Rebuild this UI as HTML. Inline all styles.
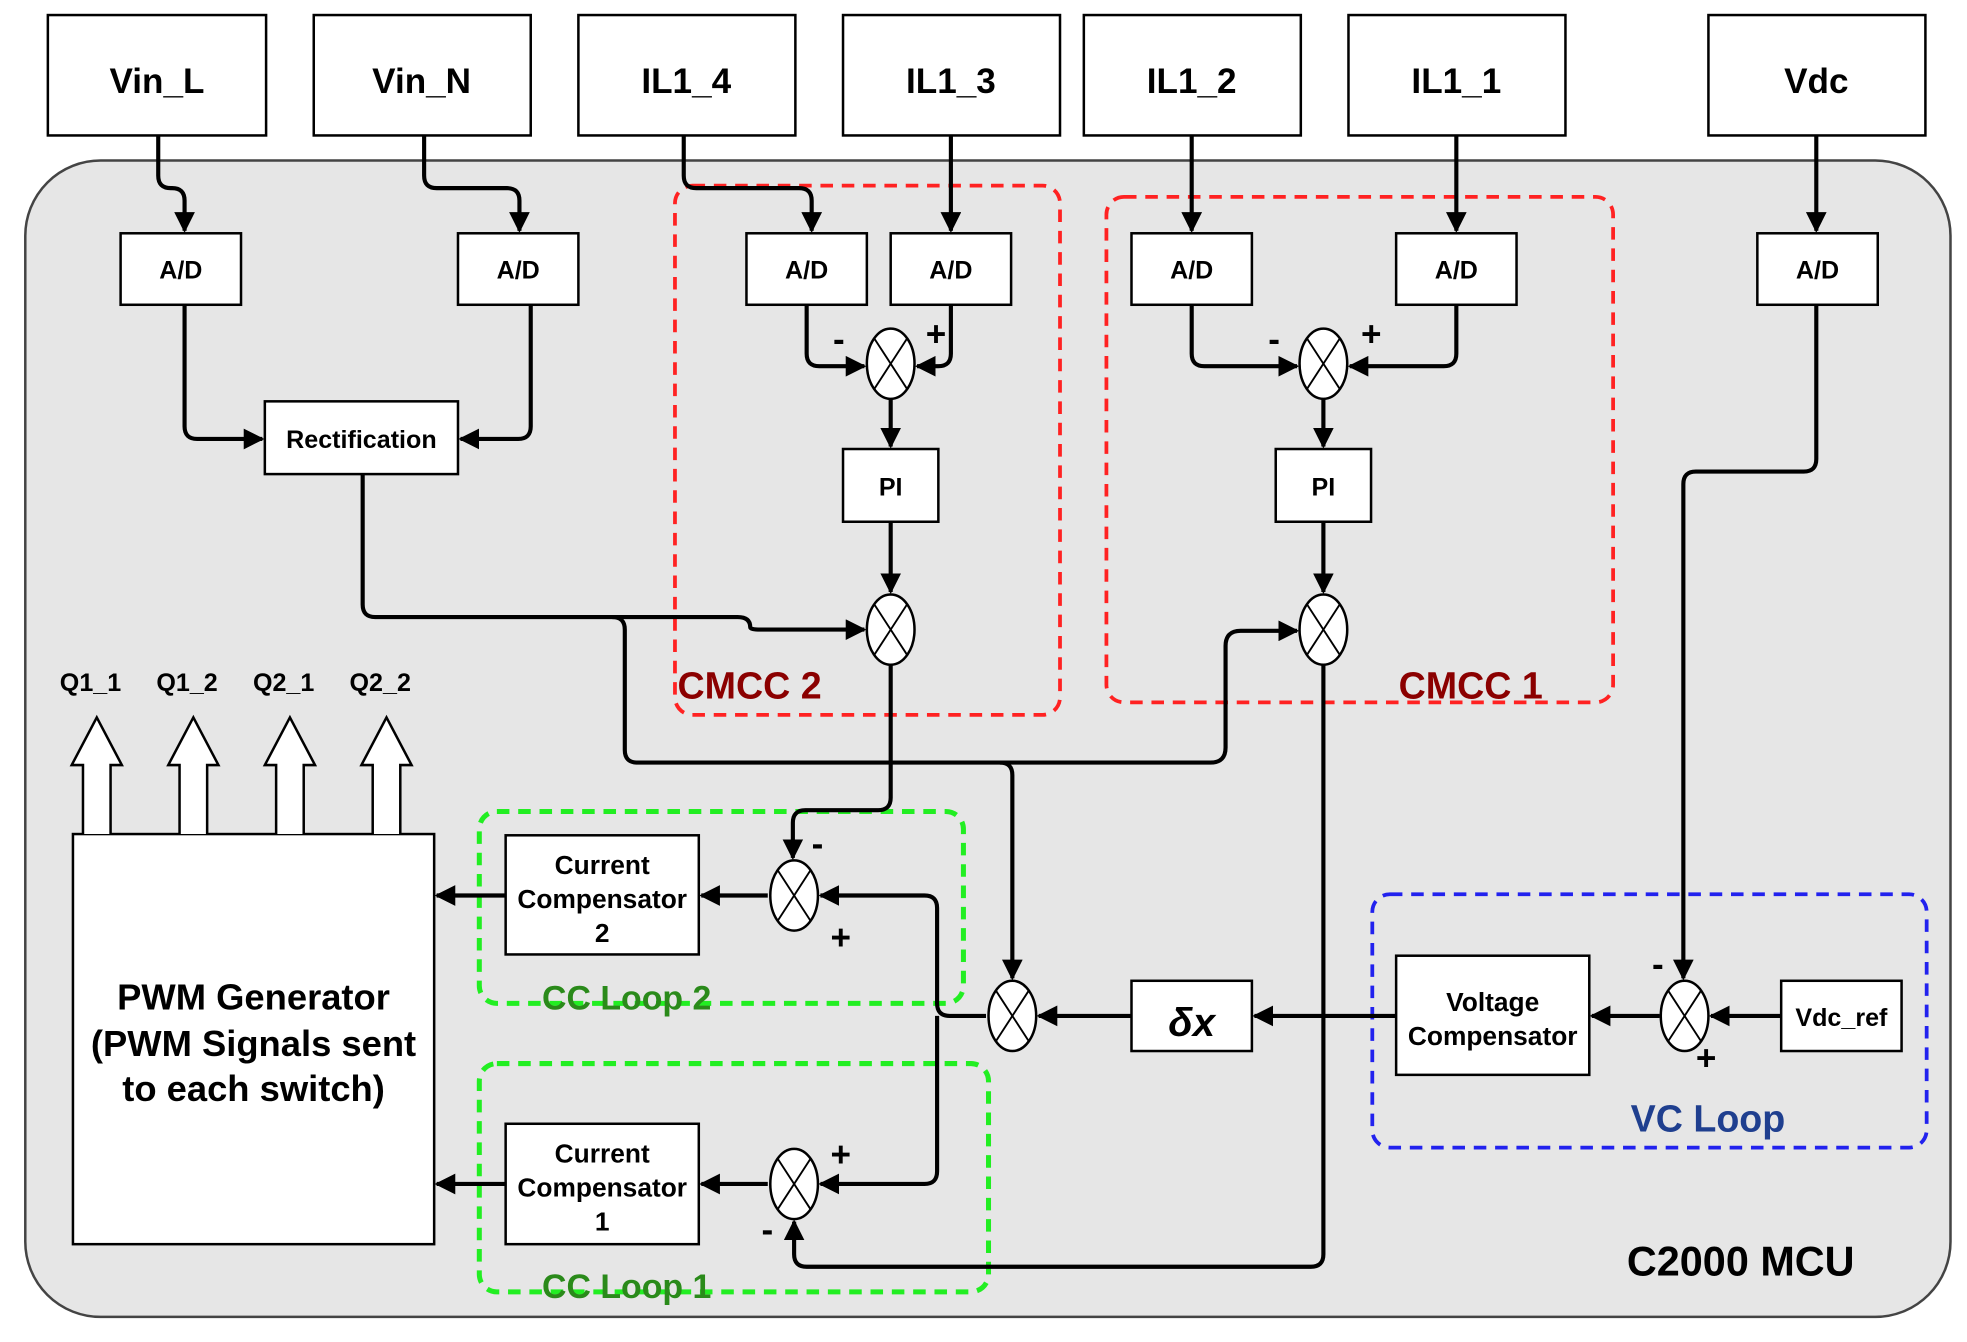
<!DOCTYPE html>
<html><head><meta charset="utf-8"><style>
html,body{margin:0;padding:0;background:#fff;}
svg{display:block;}
text{font-family:"Liberation Sans",Arial,sans-serif;font-weight:bold;}
</style></head><body>
<svg width="1967" height="1342" viewBox="0 0 1568 1070" xmlns="http://www.w3.org/2000/svg">
<defs>
<marker id="a" viewBox="0 0 10 10" refX="9" refY="5" markerWidth="5" markerHeight="5" orient="auto-start-reverse">
<path d="M0,0 L10,5 L0,10 z" fill="#000"/></marker>
<g id="sum"><ellipse cx="0" cy="0" rx="19" ry="28" fill="#fff" stroke="#000" stroke-width="2"/>
<line x1="-13" y1="-20" x2="13" y2="20" stroke="#000" stroke-width="1.5"/><line x1="13" y1="-20" x2="-13" y2="20" stroke="#000" stroke-width="1.5"/></g>
<g id="hol"><path d="M-11,93 V38 H-20 L0,0 L20,38 H11 V93" fill="#fff" stroke="#000" stroke-width="2"/></g>
</defs>
<rect x="20" y="128" width="1535" height="922" rx="60" fill="#e6e6e6" stroke="#444" stroke-width="2"/>
<g fill="#fff" stroke="#000" stroke-width="2">
<rect x="38" y="12" width="174" height="96"/><rect x="250" y="12" width="173" height="96"/>
<rect x="461" y="12" width="173" height="96"/><rect x="672" y="12" width="173" height="96"/>
<rect x="864" y="12" width="173" height="96"/><rect x="1075" y="12" width="173" height="96"/>
<rect x="1362" y="12" width="173" height="96"/>
<rect x="96" y="186" width="96" height="57"/><rect x="365" y="186" width="96" height="57"/>
<rect x="595" y="186" width="96" height="57"/><rect x="710" y="186" width="96" height="57"/>
<rect x="902" y="186" width="96" height="57"/><rect x="1113" y="186" width="96" height="57"/>
<rect x="1401" y="186" width="96" height="57"/>
<rect x="211" y="320" width="154" height="58"/>
<rect x="672" y="358" width="76" height="58"/><rect x="1017" y="358" width="76" height="58"/>
<rect x="58" y="665" width="288" height="327"/>
<rect x="403" y="666" width="154" height="95"/><rect x="403" y="896" width="154" height="96"/>
<rect x="902" y="782" width="96" height="56"/><rect x="1113" y="762" width="154" height="95"/>
<rect x="1420" y="782" width="96" height="56"/>
</g>
<g fill="none" stroke-dasharray="10,7" stroke-width="3">
<rect x="538" y="148" width="307" height="422" rx="14" stroke="#f22"/>
<rect x="882" y="157" width="404" height="403" rx="14" stroke="#f22"/>
<rect x="382" y="647" width="386" height="153" rx="14" stroke="#2e2" stroke-width="4"/>
<rect x="382" y="848" width="406" height="182" rx="14" stroke="#2e2" stroke-width="4"/>
<rect x="1094" y="713" width="442" height="202" rx="14" stroke="#22e"/>
</g>
<g fill="none" stroke="#000" stroke-width="3.3" marker-end="url(#a)">
<path d="M126,108 V140 Q126,150 136,150 H137 Q147,150 147,160 V184"/>
<path d="M338,108 V140 Q338,150 348,150 H404 Q414,150 414,160 V184"/>
<path d="M147,243 V340 Q147,350 157,350 H209"/>
<path d="M423,243 V340 Q423,350 413,350 H367"/>
<path d="M289,378 V482 Q289,492 299,492 H588 Q598,492 598,500 Q598,502 606,502 H689"/>
<path d="M488,492 Q498,492 498,502 V598 Q498,608 508,608 H797 Q807,608 807,618 V780"/>
<path d="M797,608 H965 Q977,608 977,596 V515 Q977,503 989,503 H1034"/>
<path d="M545,108 V140 Q545,150 555,150 H637 Q647,150 647,160 V184"/>
<path d="M758,108 V184"/><path d="M950,108 V184"/><path d="M1161,108 V184"/><path d="M1448,108 V184"/>
<path d="M643,243 V282 Q643,292 653,292 H689"/>
<path d="M758,243 V282 Q758,292 748,292 H731"/>
<path d="M710,318 V356"/><path d="M710,416 V472"/>
<path d="M710,530 V636 Q710,646 700,646 H642 Q632,646 632,656 V684"/>
<path d="M950,243 V282 Q950,292 960,292 H1034"/>
<path d="M1161,243 V282 Q1161,292 1151,292 H1076"/>
<path d="M1055,318 V356"/><path d="M1055,416 V472"/>
<path d="M1055,530 V1000 Q1055,1010 1045,1010 H643 Q633,1010 633,1000 V974"/>
<path d="M1448,243 V366 Q1448,376 1438,376 H1352 Q1342,376 1342,386 V780"/>
<path d="M1420,810 H1364"/><path d="M1323,810 H1269"/><path d="M1113,810 H1000"/><path d="M902,810 H828"/>
<path d="M786,810 H757 Q747,810 747,800 V724 Q747,714 737,714 H654"/>
<path d="M747,810 V934 Q747,944 737,944 H654"/>
<path d="M612,714 H559"/><path d="M403,714 H348"/>
<path d="M612,944 H559"/><path d="M403,944 H348"/>
</g>
<use href="#sum" x="710" y="290"/><use href="#sum" x="710" y="502"/>
<use href="#sum" x="1055" y="290"/><use href="#sum" x="1055" y="502"/>
<use href="#sum" x="633" y="714"/><use href="#sum" x="633" y="944"/>
<use href="#sum" x="807" y="810"/><use href="#sum" x="1343" y="810"/>
<use href="#hol" x="77" y="572"/><use href="#hol" x="154" y="572"/>
<use href="#hol" x="231" y="572"/><use href="#hol" x="308" y="572"/>
<g font-size="28" text-anchor="middle">
<text x="125" y="74">Vin_L</text><text x="336" y="74">Vin_N</text>
<text x="547" y="74">IL1_4</text><text x="758" y="74">IL1_3</text>
<text x="950" y="74">IL1_2</text><text x="1161" y="74">IL1_1</text>
<text x="1448" y="74">Vdc</text>
</g>
<g font-size="20" text-anchor="middle">
<text x="144" y="222">A/D</text><text x="413" y="222">A/D</text>
<text x="643" y="222">A/D</text><text x="758" y="222">A/D</text>
<text x="950" y="222">A/D</text><text x="1161" y="222">A/D</text><text x="1449" y="222">A/D</text>
<text x="288" y="357">Rectification</text>
<text x="710" y="395">PI</text><text x="1055" y="395">PI</text>
<text x="72" y="551">Q1_1</text><text x="149" y="551">Q1_2</text>
<text x="226" y="551">Q2_1</text><text x="303" y="551">Q2_2</text>
<text x="1468" y="818">Vdc_ref</text>
</g>
<g font-size="21" text-anchor="middle">
<text x="480" y="697">Current</text><text x="480" y="724">Compensator</text><text x="480" y="751">2</text>
<text x="480" y="927">Current</text><text x="480" y="954">Compensator</text><text x="480" y="981">1</text>
<text x="1190" y="806">Voltage</text><text x="1190" y="833">Compensator</text>
</g>
<g font-size="29" text-anchor="middle">
<text x="202" y="805">PWM Generator</text>
<text x="202" y="842">(PWM Signals sent</text>
<text x="202" y="878">to each switch)</text>
</g>
<text x="950" y="826" font-size="32" font-weight="normal" font-style="italic" text-anchor="middle">δx</text>
<g font-size="30">
<text x="540" y="557" fill="#8b0000">CMCC 2</text>
<text x="1115" y="557" fill="#8b0000">CMCC 1</text>
<text x="432" y="805" fill="#2a8a1a" font-size="27">CC Loop 2</text>
<text x="432" y="1035" fill="#2a8a1a" font-size="27">CC Loop 1</text>
<text x="1300" y="902" fill="#1f3f8f">VC Loop</text>
<text x="1297" y="1017" fill="#000" font-size="33">C2000 MCU</text>
</g>
<g font-size="28">
<text x="664" y="280">-</text><text x="738" y="276">+</text>
<text x="1011" y="280">-</text><text x="1085" y="276">+</text>
<text x="647" y="682">-</text><text x="662" y="757">+</text>
<text x="662" y="930">+</text><text x="607" y="990">-</text>
<text x="1317" y="778">-</text><text x="1352" y="853">+</text>
</g>
</svg>
</body></html>
